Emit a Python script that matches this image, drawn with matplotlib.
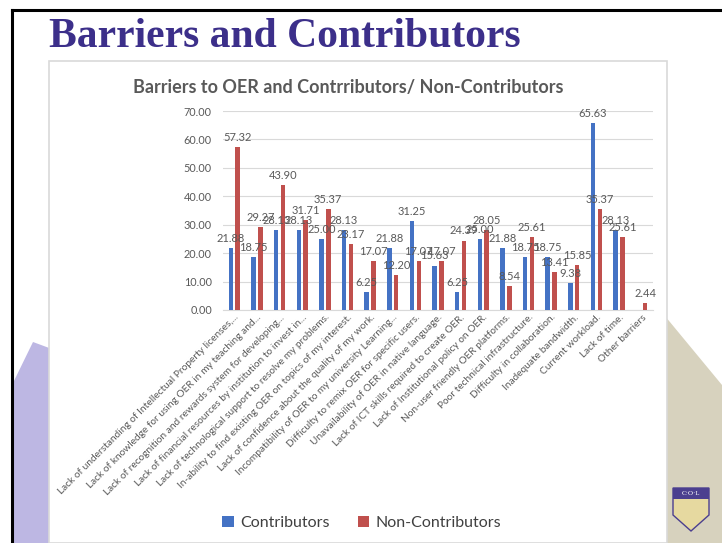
import numpy as np
import matplotlib
matplotlib.use("Agg")
import matplotlib.pyplot as plt
from matplotlib.patches import Polygon, Rectangle

# data
categories = [
    "Lack of understanding of Intellectual Property licenses,...",
    "Lack of knowledge for using OER in my teaching and...",
    "Lack of recognition and rewards system for developing...",
    "Lack of financial resources by institution to invest in...",
    "Lack of technological support to resolve my problems.",
    "In-ability to find existing OER on topics of my interest.",
    "Lack of confidence about the quality of my work.",
    "Incompatibility of OER to my university Learning...",
    "Difficulty to remix OER for specific users.",
    "Unavailability of OER in native language.",
    "Lack of ICT skills required to create OER.",
    "Lack of Institutional policy on OER.",
    "Non-user friendly OER platforms.",
    "Poor technical infrastructure.",
    "Difficulty in collaboration.",
    "Inadequate bandwidth.",
    "Current workload.",
    "Lack of time.",
    "Other barriers",
]
contributors = [21.88, 18.75, 28.13, 28.13, 25.00, 28.13, 6.25, 21.88, 31.25, 15.63,
                6.25, 25.00, 21.88, 18.75, 18.75, 9.38, 65.63, 28.13, np.nan]
non_contributors = [57.32, 29.27, 43.90, 31.71, 35.37, 23.17, 17.07, 12.20, 17.07, 17.07,
                    24.39, 28.05, 8.54, 25.61, 13.41, 15.85, 35.37, 25.61, 2.44]
yticks = [0, 10, 20, 30, 40, 50, 60, 70]

W, H = 722, 543
fig = plt.figure(figsize=(W / 100, H / 100), dpi=100)


def px(x, y):
    return (x / W, 1 - y / H)


def poly(points, **kw):
    fig.add_artist(Polygon([px(x, y) for x, y in points], closed=True,
                           transform=fig.transFigure, **kw))


# slide decoration
poly([(12, 385), (33, 342), (60, 352), (60, 543), (12, 543)], facecolor="#bdb7e3", edgecolor="none", zorder=0)
poly([(660, 310), (722, 385), (722, 543), (660, 543)], facecolor="#d7d2be", edgecolor="none", zorder=0)
fig.add_artist(Rectangle(px(49, 543), (667 - 49) / W, (543 - 61) / H, transform=fig.transFigure,
                         facecolor="white", edgecolor="#d9d9d9", linewidth=1.2, zorder=1))
fig.add_artist(plt.Line2D([12 / W, 1], [1 - 10 / H] * 2, color="black", lw=2.2, zorder=3))
fig.add_artist(plt.Line2D([12 / W] * 2, [0, 1 - 10 / H], color="black", lw=2.2, zorder=3))

# COL logo (simplified)
poly([(673, 488), (709, 488), (709, 515), (691, 531), (673, 515)], facecolor="#e6d9a0", edgecolor="#4b3f8f", linewidth=1, zorder=2)
poly([(673, 488), (709, 488), (709, 499), (673, 499)], facecolor="#4b3f8f", edgecolor="none", zorder=2)
fig.text(691 / W, 1 - 493.5 / H, "C\u00b7O\u00b7L", color="white", fontsize=5, ha="center", va="center",
         family="Liberation Serif", zorder=4)

fig.text(49 / W, 1 - 37 / H, "Barriers and Contributors", family="Liberation Serif", weight="bold",
         fontsize=30, color="#3c2f8a", ha="left", va="center", zorder=4)
fig.text(348 / W, 1 - 88 / H, "Barriers to OER and Contrributors/ Non-Contributors", family="Lato",
         weight="bold", fontsize=13, color="#595959", ha="center", va="center", zorder=4)

ax = fig.add_axes([223 / W, 1 - 310 / H, (653 - 223) / W, (310 - 111) / H], zorder=5)
ax.patch.set_alpha(0)

x = np.arange(len(categories))
bw = 0.2
b1 = ax.bar(x - 0.15, contributors, bw, color="#4472c4", label="Contributors", zorder=3)
b2 = ax.bar(x + 0.15, non_contributors, bw, color="#c0504d", label="Non-Contributors", zorder=3)

for bars, vals in [(b1, contributors), (b2, non_contributors)]:
    for rect, v in zip(bars, vals):
        if np.isnan(v):
            continue
        ax.annotate(f"{v:.2f}", (rect.get_x() + rect.get_width() / 2, v), xytext=(0, 3),
                    textcoords="offset points", ha="center", va="bottom", fontsize=8,
                    family="Lato", color="#595959", zorder=4)

ax.set_xlim(-0.5, len(categories) - 0.5)
ax.set_ylim(0, 70)
ax.set_yticks(yticks)
ax.set_yticklabels([f"{t:.2f}" for t in yticks], family="Lato", fontsize=7.8, color="#595959")
ax.set_xticks(x)
ax.set_xticklabels(categories, rotation=45, ha="right", rotation_mode="anchor",
                   family="Lato", fontsize=7.3, color="#595959")
for lbl in ax.get_xticklabels():
    lbl.set_va("top")
ax.tick_params(length=0, pad=8)
ax.tick_params(axis="x", pad=2)
ax.grid(axis="y", color="#d9d9d9", linewidth=0.8, zorder=0)
for s in ["top", "right", "left"]:
    ax.spines[s].set_visible(False)
ax.spines["bottom"].set_color("#d9d9d9")

leg = fig.legend(handles=[b1, b2], loc="center", bbox_to_anchor=(362 / W, 1 - 523 / H), ncol=2,
                 frameon=False, prop={"family": "Lato", "size": 11.5}, handlelength=0.7, handleheight=0.7,
                 columnspacing=1.8, handletextpad=0.4)
for t in leg.get_texts():
    t.set_color("#404040")
leg.set_zorder(6)

fig.savefig("out.png", dpi=100)
